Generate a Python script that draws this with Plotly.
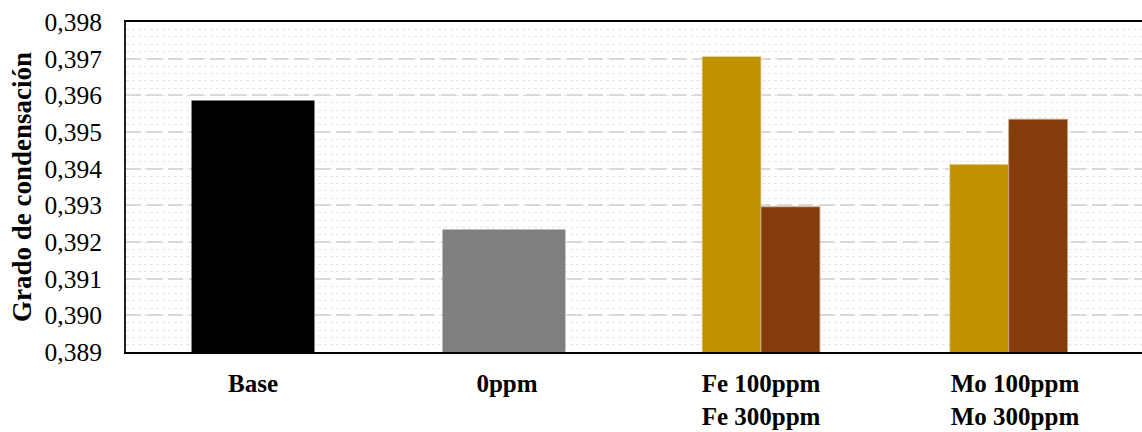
import plotly.graph_objects as go

# Categories and measured condensation degree
categories = ["Base", "0ppm", "Fe 100ppm<br>Fe 300ppm", "Mo 100ppm<br>Mo 300ppm"]
single_labels = ["Base", "0ppm"]
single_values = [0.39586, 0.39234]
single_colors = ["#000000", "#808080"]

group_labels = ["Fe 100ppm<br>Fe 300ppm", "Mo 100ppm<br>Mo 300ppm"]
values_100ppm = [0.39706, 0.39412]
values_300ppm = [0.39296, 0.39535]

y_ticks = [0.389, 0.390, 0.391, 0.392, 0.393, 0.394, 0.395, 0.396, 0.397, 0.398]

serif = "'Liberation Serif', 'Times New Roman', 'DejaVu Serif', serif"

fig = go.Figure()

fig.add_trace(go.Bar(
    x=single_labels, y=single_values,
    marker=dict(color=single_colors, line=dict(width=0)),
    width=0.484, offset=[-0.242, -0.254], showlegend=False,
))
fig.add_trace(go.Bar(
    x=group_labels, y=values_100ppm,
    marker=dict(color="#BF9000", line=dict(color="#E8D9A8", width=0.8)),
    width=0.232, offset=[-0.232, -0.257], showlegend=False,
))
fig.add_trace(go.Bar(
    x=group_labels, y=values_300ppm,
    marker=dict(color="#843C0C", line=dict(color="#C9A48C", width=0.8)),
    width=0.232, offset=[0.0, -0.025], showlegend=False,
))

fig.update_layout(
    width=1142, height=432,
    margin=dict(l=126, r=0, t=22, b=80),
    paper_bgcolor="white", plot_bgcolor="white",
    barmode="overlay",
    separators=",.",
    font=dict(family=serif, size=25, color="black"),
    xaxis=dict(
        type="category", categoryorder="array", categoryarray=categories,
        range=[-0.5, 3.5],
        showline=True, linecolor="black", linewidth=2, mirror=True,
        showgrid=False, ticks="", ticklabelstandoff=8,
        tickfont=dict(family=serif, size=25, color="black", weight="bold"),
    ),
    yaxis=dict(
        range=[0.389, 0.398], tickvals=y_ticks, tickformat=".3f",
        showline=True, linecolor="#222222", linewidth=2,
        ticks="", ticklabelstandoff=17,
        showgrid=True, gridcolor="#d9d9d9", gridwidth=1.5, griddash="15px,6px",
        minor=dict(dtick=0.0002, tick0=0.389, showgrid=True,
                   gridcolor="#e6e6e6", gridwidth=1, griddash="dot"),
        zeroline=False,
        title=dict(text="Grado de condensación", standoff=5,
                   font=dict(family=serif, size=27, color="black", weight="bold")),
        tickfont=dict(family=serif, size=25.5, color="black"),
    ),
)

fig.write_html("out.html")
